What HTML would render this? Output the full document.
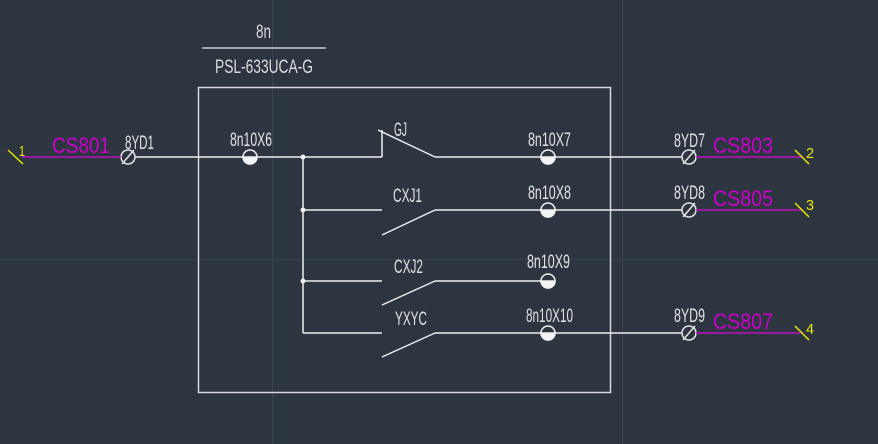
<!DOCTYPE html>
<html>
<head>
<meta charset="utf-8">
<style>
  html, body { margin: 0; padding: 0; background: #2d3541; }
  svg { display: block; }
  text { font-family: "Liberation Sans Narrow", "Liberation Sans", sans-serif; }
</style>
</head>
<body>
<svg width="878" height="444" viewBox="0 0 878 444" xmlns="http://www.w3.org/2000/svg">
  <rect x="0" y="0" width="878" height="444" fill="#2d3541"/>
  <!-- faint grid -->
  <line x1="272.5" y1="0" x2="272.5" y2="444" stroke="#3a4350" stroke-width="1"/>
  <line x1="622.5" y1="0" x2="622.5" y2="444" stroke="#3a4350" stroke-width="1"/>
  <line x1="0" y1="259.5" x2="878" y2="259.5" stroke="#3a4350" stroke-width="1"/>

  <!-- Title -->
  <text x="256" y="38" font-size="19" fill="#dcdcdc" textLength="15" lengthAdjust="spacingAndGlyphs">8n</text>
  <line x1="202" y1="48" x2="326" y2="48" stroke="#d0d0d0" stroke-width="1.5"/>
  <text x="215" y="73" font-size="19" fill="#dcdcdc" textLength="98" lengthAdjust="spacingAndGlyphs">PSL-633UCA-G</text>

  <!-- Box -->
  <rect x="198.5" y="87.5" width="412" height="305" fill="none" stroke="#d8d8d8" stroke-width="1.5"/>

  <g stroke="#eeeeee" stroke-width="1.5" fill="none">
    <line x1="135" y1="157" x2="303" y2="157"/>
    <line x1="303" y1="157" x2="303" y2="333"/>
    <line x1="303" y1="157" x2="382" y2="157"/>
    <line x1="382" y1="157" x2="382" y2="130"/>
    <line x1="378" y1="130" x2="435" y2="157"/>
    <line x1="435" y1="157" x2="682" y2="157"/>
    <line x1="303" y1="210" x2="382" y2="210"/>
    <line x1="382" y1="235" x2="435" y2="210"/>
    <line x1="435" y1="210" x2="682" y2="210"/>
    <line x1="303" y1="281" x2="382" y2="281"/>
    <line x1="382" y1="305" x2="435" y2="281"/>
    <line x1="435" y1="281" x2="548" y2="281"/>
    <line x1="303" y1="333" x2="382" y2="333"/>
    <line x1="382" y1="357" x2="435" y2="333"/>
    <line x1="435" y1="333" x2="682" y2="333"/>
  </g>

  <g fill="#f0f0f0">
    <circle cx="303" cy="157" r="2.5"/>
    <circle cx="303" cy="210" r="2.5"/>
    <circle cx="303" cy="281" r="2.5"/>
  </g>

  <g stroke="#f0f0f0" stroke-width="1.5">
    <g transform="translate(250,157)">
      <circle r="7" fill="#2d3541"/><path d="M-7 0 A7 7 0 0 0 7 0 Z" fill="#f4f4f4"/>
    </g>
    <g transform="translate(548,157)">
      <circle r="7" fill="#2d3541"/><path d="M-7 0 A7 7 0 0 0 7 0 Z" fill="#f4f4f4"/>
    </g>
    <g transform="translate(548,210)">
      <circle r="7" fill="#2d3541"/><path d="M-7 0 A7 7 0 0 0 7 0 Z" fill="#f4f4f4"/>
    </g>
    <g transform="translate(548,281)">
      <circle r="7" fill="#2d3541"/><path d="M-7 0 A7 7 0 0 0 7 0 Z" fill="#f4f4f4"/>
    </g>
    <g transform="translate(548,333)">
      <circle r="7" fill="#2d3541"/><path d="M-7 0 A7 7 0 0 0 7 0 Z" fill="#f4f4f4"/>
    </g>
  </g>

  <g stroke="#e4e4e4" stroke-width="1.5" fill="none">
    <circle cx="128" cy="157" r="7"/><line x1="122" y1="164" x2="134" y2="150"/>
    <circle cx="689" cy="157" r="7"/><line x1="683" y1="164" x2="695" y2="150"/>
    <circle cx="689" cy="210" r="7"/><line x1="683" y1="217" x2="695" y2="203"/>
    <circle cx="689" cy="333" r="7"/><line x1="683" y1="340" x2="695" y2="326"/>
  </g>

  <g stroke="#c010c0" stroke-width="1.5">
    <line x1="22" y1="157" x2="121" y2="157"/>
    <line x1="696" y1="157" x2="803" y2="157"/>
    <line x1="696" y1="210" x2="803" y2="210"/>
    <line x1="696" y1="333" x2="803" y2="333"/>
  </g>

  <g stroke="#e8e800" stroke-width="1.5">
    <line x1="8" y1="150" x2="23" y2="164"/>
    <line x1="795" y1="150" x2="809" y2="164"/>
    <line x1="795" y1="203" x2="809" y2="217"/>
    <line x1="795" y1="326" x2="809" y2="340"/>
  </g>
  <g fill="#e8e800" font-size="15">
    <text x="19" y="156" textLength="6" lengthAdjust="spacingAndGlyphs">1</text>
    <text x="806" y="158" textLength="8" lengthAdjust="spacingAndGlyphs">2</text>
    <text x="806" y="210" textLength="8" lengthAdjust="spacingAndGlyphs">3</text>
    <text x="806" y="334" textLength="8" lengthAdjust="spacingAndGlyphs">4</text>
  </g>

  <g fill="#cc00cc" font-size="22">
    <text x="52" y="153" textLength="58" lengthAdjust="spacingAndGlyphs">CS801</text>
    <text x="713" y="153" textLength="60" lengthAdjust="spacingAndGlyphs">CS803</text>
    <text x="713" y="206" textLength="60" lengthAdjust="spacingAndGlyphs">CS805</text>
    <text x="713" y="329" textLength="60" lengthAdjust="spacingAndGlyphs">CS807</text>
  </g>

  <g fill="#e2e2e2" font-size="19">
    <text x="125" y="149" textLength="29" lengthAdjust="spacingAndGlyphs">8YD1</text>
    <text x="230" y="146" textLength="42" lengthAdjust="spacingAndGlyphs">8n10X6</text>
    <text x="394" y="136" textLength="13" lengthAdjust="spacingAndGlyphs">GJ</text>
    <text x="528" y="146" textLength="43" lengthAdjust="spacingAndGlyphs">8n10X7</text>
    <text x="393" y="202" textLength="29" lengthAdjust="spacingAndGlyphs">CXJ1</text>
    <text x="528" y="199" textLength="43" lengthAdjust="spacingAndGlyphs">8n10X8</text>
    <text x="394" y="273" textLength="29" lengthAdjust="spacingAndGlyphs">CXJ2</text>
    <text x="527" y="268" textLength="43" lengthAdjust="spacingAndGlyphs">8n10X9</text>
    <text x="395" y="325" textLength="32" lengthAdjust="spacingAndGlyphs">YXYC</text>
    <text x="526" y="322" textLength="47" lengthAdjust="spacingAndGlyphs">8n10X10</text>
    <text x="674" y="147" textLength="31" lengthAdjust="spacingAndGlyphs">8YD7</text>
    <text x="674" y="199" textLength="31" lengthAdjust="spacingAndGlyphs">8YD8</text>
    <text x="674" y="322" textLength="31" lengthAdjust="spacingAndGlyphs">8YD9</text>
  </g>
</svg>
</body>
</html>
